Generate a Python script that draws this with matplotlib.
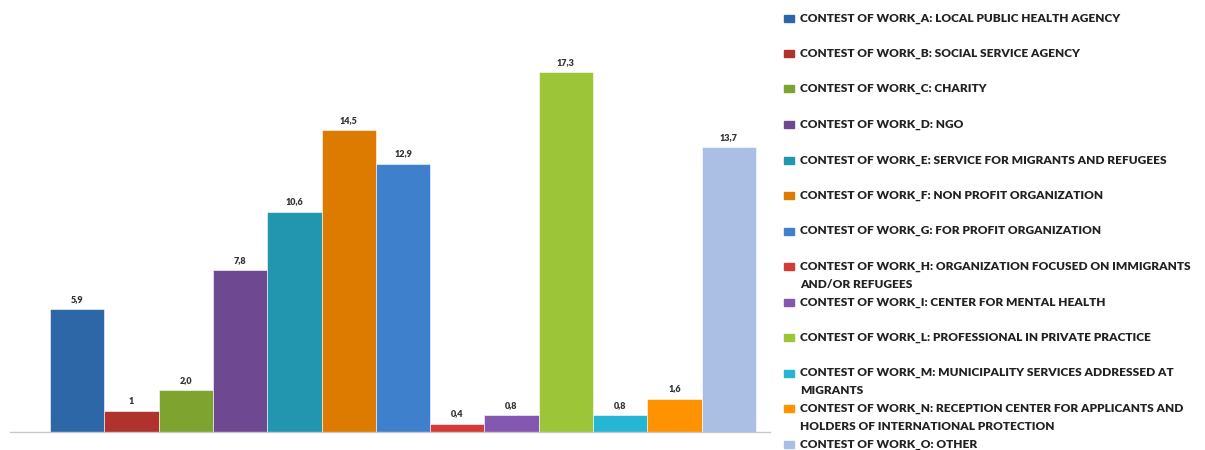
import matplotlib.pyplot as plt
from matplotlib.patches import Rectangle

categories = ["A", "B", "C", "D", "E", "F", "G", "H", "I", "L", "M", "N", "O"]
descriptions = [
    "LOCAL PUBLIC HEALTH AGENCY",
    "SOCIAL SERVICE AGENCY",
    "CHARITY",
    "NGO",
    "SERVICE FOR MIGRANTS AND REFUGEES",
    "NON PROFIT ORGANIZATION",
    "FOR PROFIT ORGANIZATION",
    "ORGANIZATION FOCUSED ON IMMIGRANTS\nAND/OR REFUGEES",
    "CENTER FOR MENTAL HEALTH",
    "PROFESSIONAL IN PRIVATE PRACTICE",
    "MUNICIPALITY SERVICES ADDRESSED AT\nMIGRANTS",
    "RECEPTION CENTER FOR APPLICANTS AND\nHOLDERS OF INTERNATIONAL PROTECTION",
    "OTHER",
]
values = [5.9, 1, 2.0, 7.8, 10.6, 14.5, 12.9, 0.4, 0.8, 17.3, 0.8, 1.6, 13.7]
value_labels = ["5,9", "1", "2,0", "7,8", "10,6", "14,5", "12,9", "0,4", "0,8", "17,3", "0,8", "1,6", "13,7"]
colors = ["#2E67A8", "#B0322E", "#7EA32E", "#6E4891", "#2196AE", "#DD7A00", "#3E80CB",
          "#D43B37", "#8457B0", "#9DC538", "#27B5D4", "#FF9200", "#AABFE3"]

font = ["Lato", "DejaVu Sans"]

fig = plt.figure(figsize=(12.05, 4.5), dpi=100)
W, H = 1205, 450
ax = fig.add_axes([10 / W, 1 - 432 / H, 760 / W, (432 - 16) / H])

x = list(range(len(values)))
bars = ax.bar(x, values, width=1.0, color=colors, edgecolor="white", linewidth=0.4)
for b, lab in zip(bars, value_labels):
    ax.text(b.get_x() + b.get_width() / 2, b.get_height() + 0.25, lab,
            ha="center", va="bottom", fontsize=6.5, fontweight="heavy",
            color="#333333", family=font)

ax.set_xlim(-1.237, 12.758)
ax.set_ylim(0, 20)
for s in ["top", "right", "left"]:
    ax.spines[s].set_visible(False)
ax.spines["bottom"].set_color("#c8c8c8")
ax.spines["bottom"].set_linewidth(1)
ax.set_xticks([])
ax.set_yticks([])

# legend drawn by hand so wrapped entries keep the even row spacing
y0, step, line_gap = 18, 35.5, 18
for i, (cat, desc, c) in enumerate(zip(categories, descriptions, colors)):
    yy = y0 + i * step
    fig.patches.append(Rectangle((784 / W, 1 - (yy + 3.5) / H), 10 / W, 7 / H,
                                 transform=fig.transFigure, color=c))
    lines = f"CONTEST OF WORK_{cat}: {desc}".split("\n")
    for k, line in enumerate(lines):
        fig.text(800 / W, 1 - (yy + k * line_gap) / H, line,
                 ha="left", va="center", fontsize=8.6, fontweight="heavy",
                 color="#222222", family=font)

fig.savefig("out.png", dpi=100)
